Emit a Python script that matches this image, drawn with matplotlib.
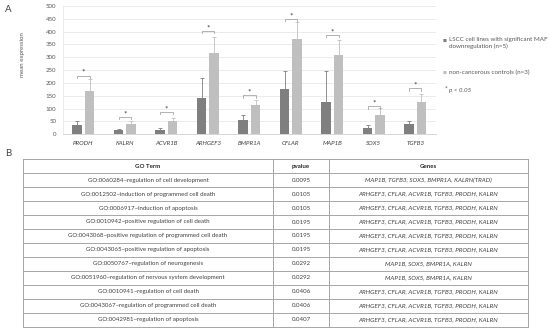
import matplotlib
matplotlib.use("Agg")
import matplotlib.pyplot as plt
import numpy as np

plt.rcParams['font.family'] = ['Lato', 'DejaVu Sans']

# ---------------- data ----------------
genes = ["PRODH", "KALRN", "ACVR1B", "ARHGEF3", "BMPR1A", "CFLAR", "MAP1B", "SOX5", "TGFB3"]
lscc_mean = [35, 15, 18, 143, 55, 176, 125, 26, 39]
lscc_err = [15, 7, 5, 77, 20, 72, 123, 10, 14]
ctrl_mean = [170, 42, 52, 318, 113, 371, 309, 75, 127]
ctrl_err = [45, 8, 13, 62, 20, 65, 59, 26, 29]
bracket_y = [229, 69, 88, 403, 153, 450, 388, 110, 180]
yticks = [0, 50, 100, 150, 200, 250, 300, 350, 400, 450, 500]

legend_labels = ["LSCC cell lines with significant MAF\ndownregulation (n=5)",
                 "non-cancerous controls (n=3)"]

table_header = ["GO Term", "pvalue", "Genes"]
go_terms = [
    "GO:0060284~regulation of cell development",
    "GO:0012502~induction of programmed cell death",
    "GO:0006917~induction of apoptosis",
    "GO:0010942~positive regulation of cell death",
    "GO:0043068~positive regulation of programmed cell death",
    "GO:0043065~positive regulation of apoptosis",
    "GO:0050767~regulation of neurogenesis",
    "GO:0051960~regulation of nervous system development",
    "GO:0010941~regulation of cell death",
    "GO:0043067~regulation of programmed cell death",
    "GO:0042981~regulation of apoptosis",
]
pvalues = ["0.0095", "0.0105", "0.0105", "0.0195", "0.0195", "0.0195",
           "0.0292", "0.0292", "0.0406", "0.0406", "0.0407"]
gene_lists = [
    "MAP1B, TGFB3, SOX5, BMPR1A, KALRN(TRAD)",
    "ARHGEF3, CFLAR, ACVR1B, TGFB3, PRODH, KALRN",
    "ARHGEF3, CFLAR, ACVR1B, TGFB3, PRODH, KALRN",
    "ARHGEF3, CFLAR, ACVR1B, TGFB3, PRODH, KALRN",
    "ARHGEF3, CFLAR, ACVR1B, TGFB3, PRODH, KALRN",
    "ARHGEF3, CFLAR, ACVR1B, TGFB3, PRODH, KALRN",
    "MAP1B, SOX5, BMPR1A, KALRN",
    "MAP1B, SOX5, BMPR1A, KALRN",
    "ARHGEF3, CFLAR, ACVR1B, TGFB3, PRODH, KALRN",
    "ARHGEF3, CFLAR, ACVR1B, TGFB3, PRODH, KALRN",
    "ARHGEF3, CFLAR, ACVR1B, TGFB3, PRODH, KALRN",
]

# ---------------- figure ----------------
W, H = 550, 332
fig = plt.figure(figsize=(W / 100, H / 100), dpi=100)

def px_axes(x0, y0, x1, y1):
    return fig.add_axes([x0 / W, 1 - y1 / H, (x1 - x0) / W, (y1 - y0) / H])

dark = "#7f7f7f"
light = "#bfbfbf"
txt = "#595959"

ax = px_axes(62.7, 6, 436, 134.3)
x = np.arange(len(genes))
bw = 0.23
off = 0.15
ax.bar(x - off, lscc_mean, bw, color=dark, zorder=3)
ax.bar(x + off, ctrl_mean, bw, color=light, zorder=3)
ax.errorbar(x - off, lscc_mean, yerr=[np.zeros(len(genes)), lscc_err], fmt='none',
            ecolor=dark, elinewidth=0.6, capsize=1.2, capthick=0.6, zorder=2)
ax.errorbar(x + off, ctrl_mean, yerr=[np.zeros(len(genes)), ctrl_err], fmt='none',
            ecolor=light, elinewidth=0.6, capsize=1.2, capthick=0.6, zorder=2)

for i, by in enumerate(bracket_y):
    ax.plot([i - off, i - off, i + off, i + off], [by - 10, by, by, by - 10],
            color="#a6a6a6", lw=0.6, zorder=4)
    ax.text(i, by + 12, "*", ha="center", va="center", fontsize=6, color="#404040")

ax.set_xlim(-0.5, len(genes) - 0.5)
ax.set_ylim(0, 500)
ax.set_yticks(yticks)
ax.set_yticklabels([str(t) for t in yticks], fontsize=4.4, color=txt)
ax.set_xticks(x)
ax.set_xticklabels(genes, fontsize=4.4, color="#404040", style="italic")
ax.tick_params(axis="both", length=0, pad=4.5)
ax.tick_params(axis="x", pad=5)
ax.yaxis.grid(True, color="#e3e3e3", lw=0.5, zorder=0)
ax.set_axisbelow(True)
for s in ["top", "right"]:
    ax.spines[s].set_visible(False)
ax.spines["left"].set_color("#e3e3e3")
ax.spines["left"].set_linewidth(0.5)
ax.spines["bottom"].set_color("#d0d0d0")
ax.spines["bottom"].set_linewidth(0.6)
ax.set_ylabel("mean expression", fontsize=4.4, color=txt)
ax.yaxis.set_label_coords(-0.1, 0.62)

# legend (manual)
fig.text(445 / W, 1 - 40.5 / H, "\u25a0", fontsize=3, color=dark, ha="center", va="center")
fig.text(449 / W, 1 - 36.5 / H, legend_labels[0], fontsize=4.5, color=txt,
         ha="left", va="top", linespacing=1.55)
fig.text(445 / W, 1 - 72.7 / H, "\u25a0", fontsize=3, color=light, ha="center", va="center")
fig.text(449 / W, 1 - 72.7 / H, legend_labels[1], fontsize=4.5, color=txt, ha="left", va="center")
fig.text(446 / W, 1 - 89.5 / H, "*", fontsize=4.7, color=txt, ha="center", va="center")
fig.text(449 / W, 1 - 90.5 / H, "p < 0.05", fontsize=4.5, color=txt, ha="left", va="center",
         style="italic")

fig.text(5 / W, 1 - 9 / H, "A", fontsize=7, color="#404040", ha="left", va="center")
fig.text(5 / W, 1 - 154 / H, "B", fontsize=7, color="#404040", ha="left", va="center")

# ---------------- table ----------------
tx0, ty0, tx1, ty1 = 22.7, 159.3, 527.5, 326.5
tab = px_axes(tx0, ty0, tx1, ty1)
tab.set_xlim(tx0, tx1)
nrows = len(go_terms) + 1
tab.set_ylim(nrows, 0)
tab.axis("off")
col_b = [tx0, 273.3, 329.0, tx1]
lc = "#a6a6a6"
for r in range(nrows + 1):
    tab.plot([tx0, tx1], [r, r], color=lc, lw=0.7, clip_on=False)
for cx in col_b:
    tab.plot([cx, cx], [0, nrows], color=lc, lw=0.7, clip_on=False)
centers = [(col_b[i] + col_b[i + 1]) / 2 for i in range(3)]
for c, h in enumerate(table_header):
    tab.text(centers[c], 0.5, h, ha="center", va="center", fontsize=4.4,
             fontweight="bold", color="#262626")
for r in range(len(go_terms)):
    yy = r + 1.5
    tab.text(centers[0], yy, go_terms[r], ha="center", va="center", fontsize=4.4, color="#404040")
    tab.text(centers[1], yy, pvalues[r], ha="center", va="center", fontsize=4.4, color="#404040")
    tab.text(centers[2], yy, gene_lists[r], ha="center", va="center", fontsize=4.5,
             color="#404040", style="italic")

fig.savefig("out.png", dpi=100)
